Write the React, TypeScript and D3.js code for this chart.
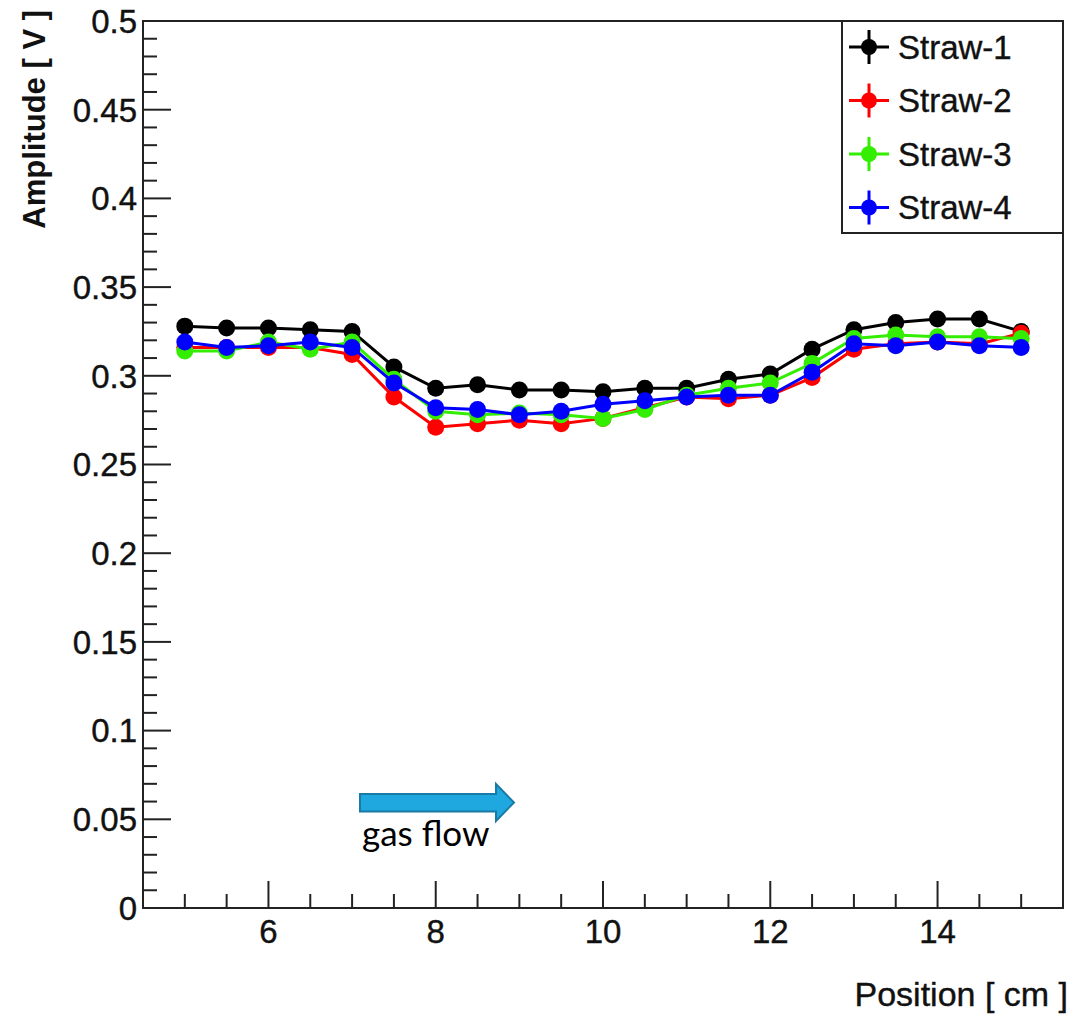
import React, { useEffect, useRef } from 'react';
import * as d3 from 'd3';

const positions = [5, 5.5, 6, 6.5, 7, 7.5, 8, 8.5, 9, 9.5, 10, 10.5, 11, 11.5, 12, 12.5, 13, 13.5, 14, 14.5, 15];

const straw1 = [0.328, 0.327, 0.327, 0.326, 0.325, 0.305, 0.293, 0.295, 0.292, 0.292, 0.291, 0.293, 0.293, 0.298, 0.301, 0.315, 0.326, 0.330, 0.332, 0.332, 0.325];
const straw2 = [0.316, 0.316, 0.316, 0.316, 0.312, 0.288, 0.271, 0.273, 0.275, 0.273, 0.276, 0.282, 0.288, 0.287, 0.289, 0.299, 0.315, 0.318, 0.319, 0.318, 0.324];
const straw3 = [0.314, 0.314, 0.319, 0.315, 0.319, 0.298, 0.280, 0.278, 0.279, 0.278, 0.276, 0.281, 0.289, 0.293, 0.296, 0.307, 0.321, 0.323, 0.322, 0.322, 0.321];
const straw4 = [0.319, 0.316, 0.317, 0.319, 0.316, 0.296, 0.282, 0.281, 0.278, 0.280, 0.284, 0.286, 0.288, 0.289, 0.289, 0.302, 0.318, 0.317, 0.319, 0.317, 0.316];

const seriesNames = ['Straw-1', 'Straw-2', 'Straw-3', 'Straw-4'];
const seriesColors = ['#000000', '#ff0000', '#33ee00', '#0000ff'];

const xMajorTicks = [6, 8, 10, 12, 14];
const yMajorTicks = [0, 0.05, 0.1, 0.15, 0.2, 0.25, 0.3, 0.35, 0.4, 0.45, 0.5];
const yTickLabels = ['0', '0.05', '0.1', '0.15', '0.2', '0.25', '0.3', '0.35', '0.4', '0.45', '0.5'];

const W = 1072;
const H = 1016;

const App: React.FC = () => {
  const ref = useRef<SVGSVGElement>(null);

  useEffect(() => {
    if (!ref.current) return;
    const svg = d3.select(ref.current);
    svg.selectAll('*').remove();

    const left = 143, right = 1063, top = 21, bottom = 908;
    const font = 'Liberation Sans';

    const x = d3.scaleLinear().domain([4.5, 15.5]).range([left, right]);
    const y = d3.scaleLinear().domain([0, 0.5]).range([bottom, top]);

    // frame
    svg.append('rect')
      .attr('x', left).attr('y', top)
      .attr('width', right - left).attr('height', bottom - top)
      .attr('fill', 'none').attr('stroke', '#222').attr('stroke-width', 2);

    // y ticks (inward)
    const yMinor = d3.range(0, 0.5001, 0.01);
    svg.append('g').selectAll('line').data(yMinor).enter().append('line')
      .attr('x1', left).attr('x2', d => left + (Math.abs(d / 0.05 - Math.round(d / 0.05)) < 1e-6 ? 28 : 14))
      .attr('y1', d => y(d)).attr('y2', d => y(d))
      .attr('stroke', '#222').attr('stroke-width', 2);

    svg.append('g').selectAll('text').data(yMajorTicks).enter().append('text')
      .attr('x', left - 6).attr('y', d => y(d))
      .attr('dy', '0.36em')
      .attr('text-anchor', 'end')
      .attr('font-family', font).attr('font-size', 33).attr('fill', '#111')
      .attr('stroke', '#111').attr('stroke-width', 0.4)
      .text((d, i) => yTickLabels[i]);

    // x ticks
    const xMinor = d3.range(5, 15.001, 0.5);
    svg.append('g').selectAll('line').data(xMinor).enter().append('line')
      .attr('x1', d => x(d)).attr('x2', d => x(d))
      .attr('y1', bottom).attr('y2', d => bottom - (xMajorTicks.includes(d) ? 27 : 14))
      .attr('stroke', '#222').attr('stroke-width', 2);

    svg.append('g').selectAll('text').data(xMajorTicks).enter().append('text')
      .attr('x', d => x(d)).attr('y', 943)
      .attr('text-anchor', 'middle')
      .attr('font-family', font).attr('font-size', 33).attr('fill', '#111')
      .attr('stroke', '#111').attr('stroke-width', 0.4)
      .text(d => d);

    // axis titles
    svg.append('text')
      .attr('transform', `translate(45,10) rotate(-90)`)
      .attr('text-anchor', 'end')
      .attr('font-family', font).attr('font-size', 31).attr('font-weight', 'bold').attr('fill', '#111')
      .text('Amplitude [ V ]');

    svg.append('text')
      .attr('x', 1068).attr('y', 1006)
      .attr('text-anchor', 'end')
      .attr('font-family', font).attr('font-size', 34).attr('fill', '#111')
      .attr('stroke', '#111').attr('stroke-width', 0.4)
      .text('Position [ cm ]');

    // series
    const allSeries = [straw1, straw2, straw3, straw4];
    const line = d3.line<number>().x((d, i) => x(positions[i])).y(d => y(d));
    allSeries.forEach((vals, si) => {
      const g = svg.append('g');
      g.append('path')
        .attr('d', line(vals) ?? '')
        .attr('fill', 'none').attr('stroke', seriesColors[si]).attr('stroke-width', 3);
      g.selectAll('circle').data(vals).enter().append('circle')
        .attr('cx', (d, i) => x(positions[i])).attr('cy', d => y(d))
        .attr('r', 8.5).attr('fill', seriesColors[si]);
    });

    // legend
    const lx0 = 842, ly0 = 21, lx1 = 1063, ly1 = 233;
    svg.append('rect')
      .attr('x', lx0).attr('y', ly0).attr('width', lx1 - lx0).attr('height', ly1 - ly0)
      .attr('fill', '#fff').attr('stroke', '#222').attr('stroke-width', 2);
    const entries = svg.append('g').selectAll('g').data(seriesNames).enter().append('g')
      .attr('transform', (d, i) => `translate(0,${47 + i * 53.5})`);
    entries.append('line')
      .attr('x1', 849).attr('x2', 889).attr('y1', 0).attr('y2', 0)
      .attr('stroke', (d, i) => seriesColors[i]).attr('stroke-width', 3);
    entries.append('line')
      .attr('x1', 869).attr('x2', 869).attr('y1', -17).attr('y2', 17)
      .attr('stroke', (d, i) => seriesColors[i]).attr('stroke-width', 3);
    entries.append('circle')
      .attr('cx', 869).attr('cy', 0).attr('r', 8)
      .attr('fill', (d, i) => seriesColors[i]);
    entries.append('text')
      .attr('x', 898).attr('y', 0).attr('dy', '0.36em')
      .attr('font-family', font).attr('font-size', 33).attr('fill', '#111')
      .attr('stroke', '#111').attr('stroke-width', 0.4)
      .text(d => d);

    // gas flow arrow
    const arrow = d3.path();
    arrow.moveTo(360, 794);
    arrow.lineTo(496, 794);
    arrow.lineTo(496, 784);
    arrow.lineTo(514, 802.5);
    arrow.lineTo(496, 821);
    arrow.lineTo(496, 811.5);
    arrow.lineTo(360, 811.5);
    arrow.closePath();
    svg.append('path')
      .attr('d', arrow.toString())
      .attr('fill', '#1fa8df').attr('stroke', '#1a7aa6').attr('stroke-width', 2);

    svg.append('text')
      .attr('x', 362).attr('y', 846)
      .attr('font-family', 'Lato, "Open Sans", sans-serif').attr('font-size', 35).attr('fill', '#000')
      .text('gas flow');
  }, []);

  return (
    <svg
      ref={ref}
      width={W}
      height={H}
      style={{ position: 'absolute', left: 0, top: 0, background: '#fff' }}
    />
  );
};

export default App;
